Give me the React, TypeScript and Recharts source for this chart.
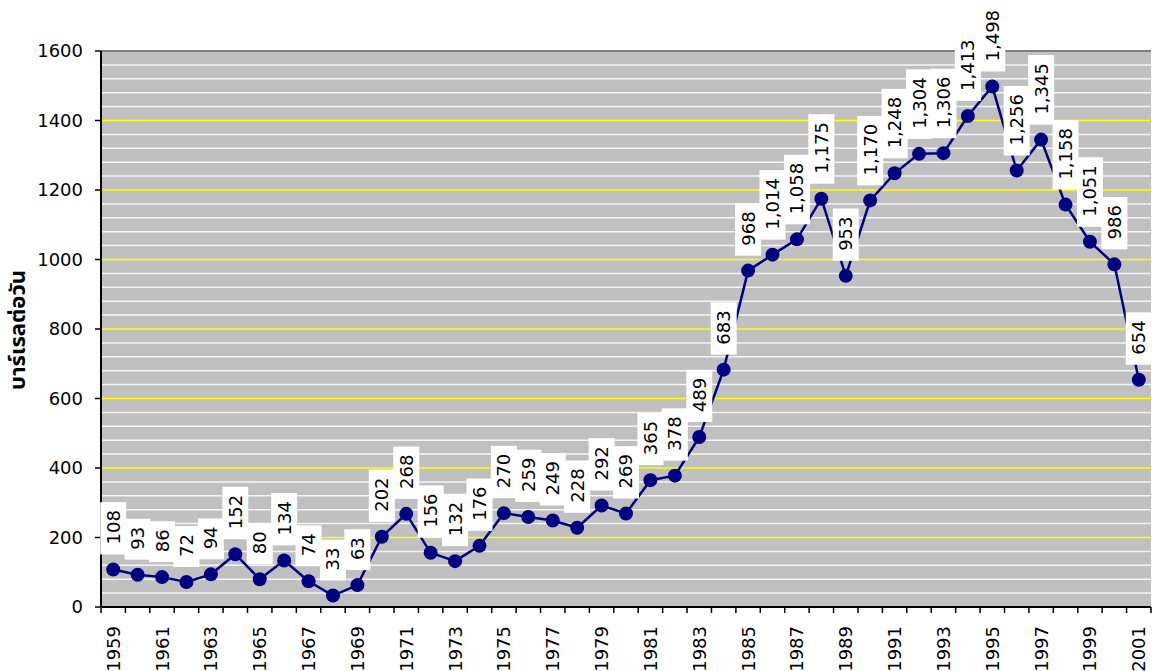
import { CartesianGrid, LabelList, Line, LineChart, ReferenceLine, XAxis, YAxis } from "recharts";

const years = [
  "1959", "1960", "1961", "1962", "1963", "1964", "1965", "1966", "1967", "1968",
  "1969", "1970", "1971", "1972", "1973", "1974", "1975", "1976", "1977", "1978",
  "1979", "1980", "1981", "1982", "1983", "1984", "1985", "1986", "1987", "1988",
  "1989", "1990", "1991", "1992", "1993", "1994", "1995", "1996", "1997", "1998",
  "1999", "2000", "2001",
];

const barrels = [
  108, 93, 86, 72, 94, 152, 80, 134, 74, 33,
  63, 202, 268, 156, 132, 176, 270, 259, 249, 228,
  292, 269, 365, 378, 489, 683, 968, 1014, 1058, 1175,
  953, 1170, 1248, 1304, 1306, 1413, 1498, 1256, 1345, 1158,
  1051, 986, 654,
];

const yTicks = [0, 200, 400, 600, 800, 1000, 1200, 1400, 1600];
const majorLines = [200, 400, 600, 800, 1000, 1200, 1400];
const minorLines = [
  40, 80, 120, 160, 240, 280, 320, 360, 440, 480, 520, 560, 640, 680, 720, 760,
  840, 880, 920, 960, 1040, 1080, 1120, 1160, 1240, 1280, 1320, 1360, 1440, 1480, 1520, 1560,
];

const data = years.map((year, i) => ({ year, value: barrels[i] }));

const W = 1152;
const H = 671;
const PLOT_LEFT = 101;
const PLOT_W = 1050;
const BAND = PLOT_W / years.length;
const FONT = "'DejaVu Sans', Verdana, sans-serif";
const FS = 18;
const NAVY = "#000080";

// white tag with the value written upward, sitting just above the dot
function ValueTag(props: any) {
  const { x, y, value } = props;
  const text = Number(value).toLocaleString("en-US");
  const len = text.split("").reduce((s: number, c: string) => s + (c === "," ? 0.318 : 0.636) * FS, 0);
  const boxBottom = y - 15;
  const h = len + 18;
  const ty = y - 25;
  return (
    <g>
      <rect x={x - 13} y={boxBottom - h} width={26} height={h} fill="#ffffff" />
      <text
        x={x}
        y={ty}
        transform={`rotate(-90 ${x} ${ty})`}
        textAnchor="start"
        dominantBaseline="central"
        fontFamily={FONT}
        fontSize={FS}
        fill="#000"
      >
        {text}
      </text>
    </g>
  );
}

// tick marks between categories, year text on every other one
function YearTick(props: any) {
  const { x, y, payload, index } = props;
  const half = BAND / 2;
  const ty = y + 19;
  return (
    <g>
      <line x1={x - half} y1={y} x2={x - half} y2={y + 6} stroke="#000" strokeWidth={1.5} />
      {index === years.length - 1 && (
        <line x1={x + half} y1={y} x2={x + half} y2={y + 6} stroke="#000" strokeWidth={1.5} />
      )}
      {index % 2 === 0 && (
        <text
          x={x}
          y={ty}
          transform={`rotate(-90 ${x} ${ty})`}
          textAnchor="end"
          dominantBaseline="central"
          fontFamily={FONT}
          fontSize={FS}
          fill="#000"
        >
          {payload.value}
        </text>
      )}
    </g>
  );
}

export default function App() {
  return (
    <div style={{ position: "absolute", left: 0, top: 0, width: W, height: H, background: "#fff" }}>
      <LineChart width={W} height={H} data={data} margin={{ top: 51, right: 1, left: 0, bottom: 0 }}>
        <CartesianGrid fill="#C0C0C0" horizontal={false} vertical={false} />
        {minorLines.map((v) => (
          <ReferenceLine key={`m${v}`} y={v} stroke="#f4f4f4" strokeWidth={1.5} ifOverflow="visible" />
        ))}
        {majorLines.map((v) => (
          <ReferenceLine key={`M${v}`} y={v} stroke="#ffff00" strokeWidth={1.5} ifOverflow="visible" />
        ))}
        <ReferenceLine y={1600} stroke="#808080" strokeWidth={2} />
        <XAxis
          dataKey="year"
          scale="band"
          height={64}
          interval={0}
          tickSize={0}
          tickMargin={0}
          tickLine={false}
          axisLine={{ stroke: "#000", strokeWidth: 2 }}
          tick={<YearTick />}
        />
        <YAxis
          width={PLOT_LEFT}
          domain={[0, 1600]}
          ticks={yTicks}
          interval={0}
          tickSize={6}
          tickMargin={12}
          axisLine={{ stroke: "#000", strokeWidth: 2 }}
          tickLine={{ stroke: "#000", strokeWidth: 1.5 }}
          tick={{ fill: "#000", fontSize: FS, fontFamily: FONT }}
        />
        <YAxis
          yAxisId="right"
          orientation="right"
          width={0}
          domain={[0, 1600]}
          tick={false}
          tickLine={false}
          axisLine={{ stroke: "#808080", strokeWidth: 2 }}
        />
        <Line
          type="linear"
          dataKey="value"
          stroke={NAVY}
          strokeWidth={2.5}
          dot={{ r: 7, fill: NAVY, stroke: NAVY, strokeWidth: 0 }}
          activeDot={false}
          isAnimationActive={false}
        >
          <LabelList dataKey="value" content={<ValueTag />} />
        </Line>
      </LineChart>
      <div
        style={{
          position: "absolute",
          left: 18,
          top: 330,
          transform: "translate(-50%, -50%) rotate(-90deg)",
          whiteSpace: "nowrap",
          fontWeight: "bold",
          fontSize: 22,
          fontFamily: "Tahoma, 'Noto Sans Thai', 'Noto Sans', 'DejaVu Sans', sans-serif",
          color: "#000",
        }}
      >
        บาร์เรลต่อวัน
      </div>
    </div>
  );
}
